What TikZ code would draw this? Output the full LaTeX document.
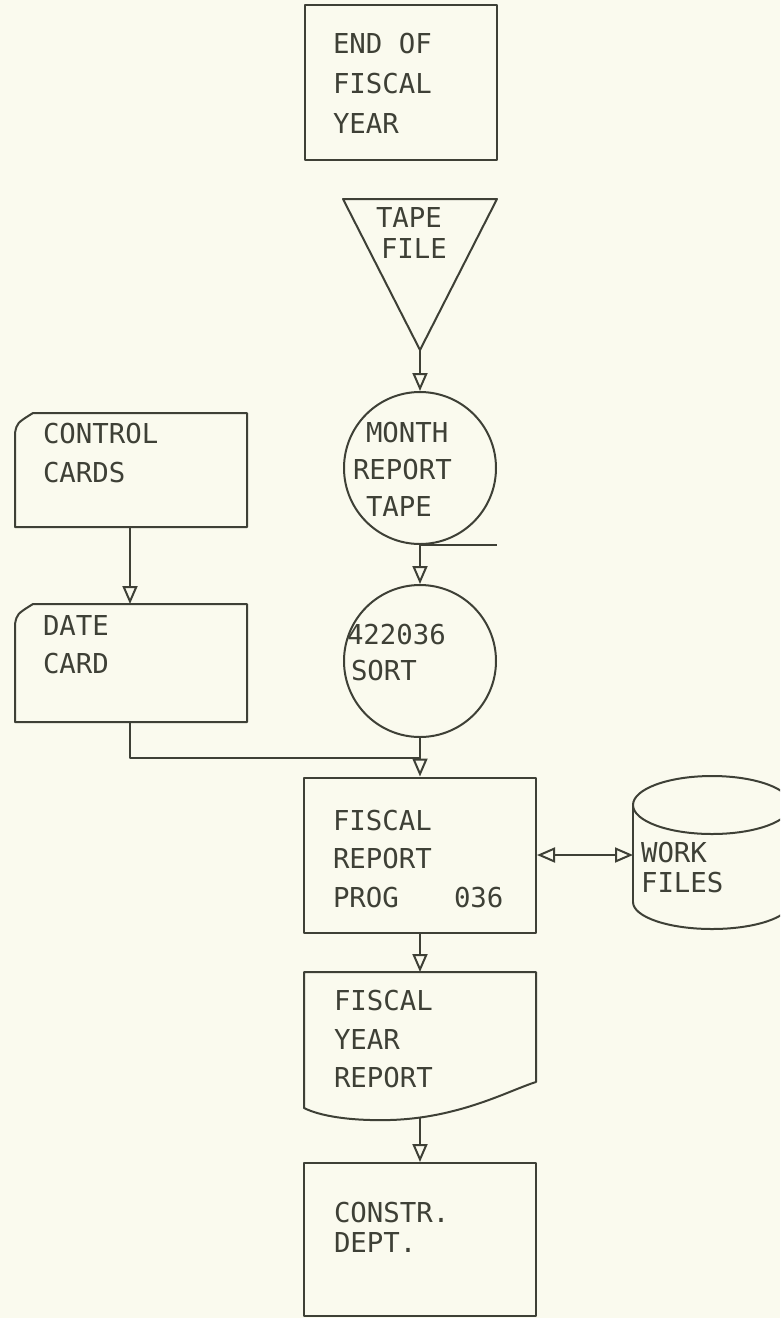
\documentclass[tikz,border=0pt]{standalone}
\usepackage{fontspec}
\newfontfamily\plotfont{DejaVu Sans Mono}
\usetikzlibrary{arrows.meta}
\definecolor{paper}{RGB}{250,250,238}
\definecolor{ink}{RGB}{62,64,54}
\begin{document}
\begin{tikzpicture}[x=1pt,y=-1pt,line width=2pt,color=ink,line join=round,
  lbl/.style={anchor=base west,inner sep=0pt,text=ink,font=\plotfont\fontsize{27.4pt}{39pt}\selectfont},
  box/.style={draw=ink,rectangle,inner sep=0pt},
  tape/.style={draw=ink,circle,inner sep=0pt,minimum size=152pt},
  flow/.style={draw=ink,-{Triangle[open,length=18pt,width=15pt,line width=2pt]}},
  both/.style={draw=ink,{Triangle[open,length=18pt,width=15pt,line width=2pt]}-{Triangle[open,length=18pt,width=15pt,line width=2pt]}}]
\fill[paper] (0,0) rectangle (780,1318);
\clip (0,0) rectangle (780,1318);
% --- shapes ---
\node[box,minimum width=192pt,minimum height=155pt] (fy) at (401,82.5) {};
\draw (343,199) -- (497,199) -- (420,350) -- cycle;
\coordinate (apex) at (420,350);
\node[tape] (mrt) at (420,468) {};
\draw (mrt.south) -- ++(77,0);
\node[tape] (sort) at (420,661) {};
% control cards
\draw (15,433) .. controls (17,423) .. (33,413) -- (247,413) -- (247,527) -- (15,527) -- cycle;
\coordinate (ccb) at (130,527);
% date card
\draw (15,624) .. controls (17,614) .. (33,604) -- (247,604) -- (247,722) -- (15,722) -- cycle;
\coordinate (dct) at (130,604);
\coordinate (dcb) at (130,722);
\coordinate (jn) at (420,758);
% program box
\node[box,minimum width=232pt,minimum height=155pt] (prog) at (420,855) {};
% work files drum
\draw (633,805) -- (633,902);
\draw (712,805) ellipse [x radius=79,y radius=29];
\draw (633,902) arc [start angle=180,end angle=0,x radius=79,y radius=27];
\coordinate (drum) at (633,855);
% document
\draw (304,972) -- (536,972) -- (536,1082) .. controls (510,1090) and (460,1118) .. (390,1120)
      .. controls (350,1121) and (320,1116) .. (304,1108) -- cycle;
\coordinate (doct) at (420,972);
\coordinate (docb) at (420,1117);
% constr box
\node[box,minimum width=232pt,minimum height=153pt] (constr) at (420,1239.5) {};
% --- connectors ---
\draw[flow] (apex) -- (mrt.north);
\draw[flow] (mrt.south) -- (sort.north);
\draw[flow] (ccb) -- (dct);
\draw (dcb) |- (jn);
\draw[flow] (sort.south) -- (prog.north);
\draw[both] (prog.east) -- (drum);
\draw[flow] (prog.south) -- (doct);
\draw[flow] (docb) -- (constr.north);
% --- texts ---
\node[lbl] (t1) at (332,53) {END OF};
\node[lbl] (t2) at (332,93) {FISCAL};
\node[lbl] (t3) at (332,133) {YEAR};
\node[lbl] (t4) at (375,227) {TAPE};
\node[lbl] (t5) at (380,258) {FILE};
\node[lbl] (t6) at (365,442) {MONTH};
\node[lbl] (t7) at (352,479) {REPORT};
\node[lbl] (t8) at (365,516) {TAPE};
\node[lbl] (t9) at (346,644) {422036};
\node[lbl] (t10) at (350,680) {SORT};
\node[lbl] (t11) at (42,443) {CONTROL};
\node[lbl] (t12) at (42,482) {CARDS};
\node[lbl] (t13) at (42,635) {DATE};
\node[lbl] (t14) at (42,673) {CARD};
\node[lbl] (t15) at (332,830) {FISCAL};
\node[lbl] (t16) at (332,868) {REPORT};
\node[lbl] (t17) at (332,907) {PROG};
\node[lbl] (t18) at (453,907) {036};
\node[lbl] (t19) at (640,862) {WORK};
\node[lbl] (t20) at (640,892) {FILES};
\node[lbl] (t21) at (333,1010) {FISCAL};
\node[lbl] (t22) at (333,1049) {YEAR};
\node[lbl] (t23) at (333,1087) {REPORT};
\node[lbl] (t24) at (333,1222) {CONSTR.};
\node[lbl] (t25) at (333,1252) {DEPT.};
\end{tikzpicture}
\end{document}
